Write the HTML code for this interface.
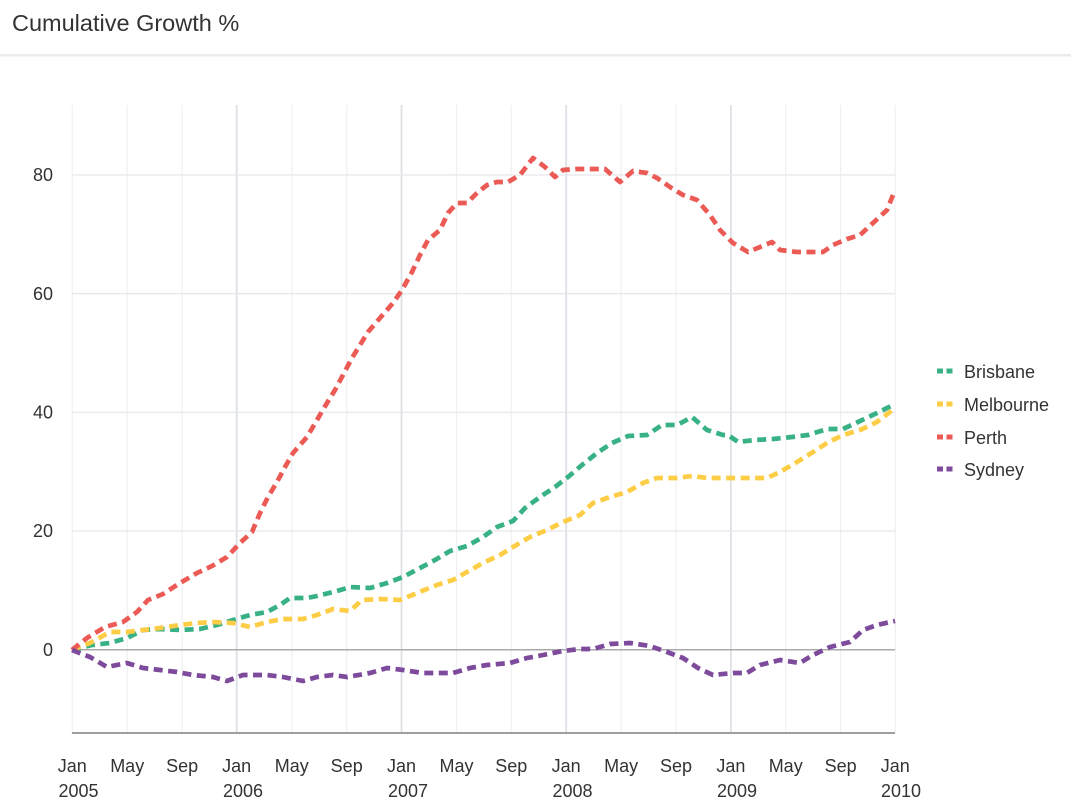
<!DOCTYPE html>
<html><head><meta charset="utf-8"><style>
html,body{margin:0;padding:0;background:#fff;width:1071px;height:805px;overflow:hidden;font-family:"Liberation Sans",Arial,sans-serif;}
svg{display:block}
</style></head><body>
<svg width="1071" height="805" viewBox="0 0 1071 805" xmlns="http://www.w3.org/2000/svg" font-family="Liberation Sans, Arial, sans-serif">
<text x="12" y="31" font-size="23.5" fill="#333">Cumulative Growth %</text>
<rect x="0" y="54" width="1071" height="2.5" fill="#ebebeb"/>
<g stroke="#eef0f3" stroke-width="1.2">
<line x1="72.3" y1="105" x2="72.3" y2="733"/>
<line x1="127.2" y1="105" x2="127.2" y2="733"/>
<line x1="182.1" y1="105" x2="182.1" y2="733"/>
<line x1="291.8" y1="105" x2="291.8" y2="733"/>
<line x1="346.7" y1="105" x2="346.7" y2="733"/>
<line x1="456.5" y1="105" x2="456.5" y2="733"/>
<line x1="511.3" y1="105" x2="511.3" y2="733"/>
<line x1="621.1" y1="105" x2="621.1" y2="733"/>
<line x1="676" y1="105" x2="676" y2="733"/>
<line x1="785.7" y1="105" x2="785.7" y2="733"/>
<line x1="840.6" y1="105" x2="840.6" y2="733"/>
<line x1="895.3" y1="105" x2="895.3" y2="733"/>
</g>
<g stroke="#dde1e6" stroke-width="1.8">
<line x1="236.7" y1="105" x2="236.7" y2="733"/>
<line x1="401.5" y1="105" x2="401.5" y2="733"/>
<line x1="566.2" y1="105" x2="566.2" y2="733"/>
<line x1="730.9" y1="105" x2="730.9" y2="733"/>
</g>
<g stroke="#e6e8eb" stroke-width="1.3">
<line x1="72" y1="175" x2="895" y2="175"/>
<line x1="72" y1="293.7" x2="895" y2="293.7"/>
<line x1="72" y1="412.4" x2="895" y2="412.4"/>
<line x1="72" y1="531" x2="895" y2="531"/>
</g>
<line x1="72" y1="649.7" x2="895" y2="649.7" stroke="#aaa" stroke-width="1.5"/>
<line x1="72" y1="733" x2="895" y2="733" stroke="#9e9e9e" stroke-width="2"/>
<g font-size="18" fill="#333" text-anchor="end">
<text x="53" y="181">80</text>
<text x="53" y="300">60</text>
<text x="53" y="418.5">40</text>
<text x="53" y="537">20</text>
<text x="53" y="656">0</text>
</g>
<g font-size="18" fill="#333" text-anchor="middle">
<text x="72.3" y="772">Jan</text><text x="78.5" y="797">2005</text>
<text x="127.2" y="772">May</text>
<text x="182.1" y="772">Sep</text>
<text x="236.7" y="772">Jan</text><text x="243" y="797">2006</text>
<text x="291.8" y="772">May</text>
<text x="346.7" y="772">Sep</text>
<text x="401.5" y="772">Jan</text><text x="408" y="797">2007</text>
<text x="456.5" y="772">May</text>
<text x="511.3" y="772">Sep</text>
<text x="566.2" y="772">Jan</text><text x="572.5" y="797">2008</text>
<text x="621.1" y="772">May</text>
<text x="676" y="772">Sep</text>
<text x="730.9" y="772">Jan</text><text x="737" y="797">2009</text>
<text x="785.7" y="772">May</text>
<text x="840.6" y="772">Sep</text>
<text x="895.3" y="772">Jan</text><text x="901" y="797">2010</text>
</g>
<g fill="none" stroke-width="4.7" stroke-dasharray="9 5.5" stroke-linejoin="round">
<polyline stroke="#38b184" points="72,650 92,645 110,643 127,638 143,630 160,629 180,630 200,629 217,625 233,620 250,615 267,612 280,605 290,598 307,598 317,596 337,591 350,587 370,588 387,583 403,577 420,568 435,560 450,551 467,546 483,537 497,527 513,521 525,508 540,497 555,487 568,477 582,465 597,453 612,443 628,436 647,435 662,425 677,425 692,417 707,430 723,435 728,435 738,442 755,440 773,439 792,437 808,435 827,429 843,429 858,422 877,413 895,404"/>
<polyline stroke="#fdcd45" points="72,650 90,643 110,632 127,632 143,630 160,628 180,625 197,623 213,622 233,623 250,627 267,622 283,619 303,619 317,615 333,609 350,611 362,600 380,599 400,600 417,593 437,585 453,580 467,572 483,563 500,555 513,547 530,537 547,530 563,522 580,515 593,503 610,497 627,492 643,483 657,478 677,478 692,476 707,478 730,478 767,478 780,472 797,462 813,452 827,443 843,435 860,430 877,422 895,408"/>
<polyline stroke="#ec5a55" points="72,650 87,638 105,627 123,622 137,612 148,600 163,594 180,583 197,573 212,566 227,557 240,543 252,532 260,513 268,497 277,482 285,467 293,453 307,437 317,420 327,403 335,390 343,375 352,358 360,345 368,332 380,318 393,303 402,290 412,272 420,255 428,240 440,230 448,213 457,203 467,203 477,193 487,185 497,182 508,182 520,175 533,158 545,167 555,177 563,170 577,169 590,169 605,169 620,182 633,171 647,173 657,178 670,187 683,195 697,200 710,215 720,230 733,243 748,252 765,245 772,242 780,250 797,252 823,252 833,245 847,239 860,235 873,223 887,210 895,190"/>
<polyline stroke="#7d4a9c" points="72,650 90,657 107,667 127,663 143,668 160,670 177,672 193,675 213,677 227,681 243,675 267,675 283,677 303,681 317,677 333,675 347,677 370,673 387,668 403,670 423,673 453,673 470,668 487,665 510,663 527,658 543,655 563,651 580,649 593,649 610,644 630,643 650,646 667,652 683,658 698,668 713,675 733,673 747,673 760,665 780,660 800,663 813,655 830,647 850,642 863,630 877,625 895,621"/>
</g>
<g stroke-width="5" stroke-dasharray="6 3.5">
<line x1="937" y1="371" x2="952.5" y2="371" stroke="#38b184"/>
<line x1="937" y1="404" x2="952.5" y2="404" stroke="#fdcd45"/>
<line x1="937" y1="437" x2="952.5" y2="437" stroke="#ec5a55"/>
<line x1="937" y1="469" x2="952.5" y2="469" stroke="#7d4a9c"/>
</g>
<g font-size="18" fill="#333">
<text x="964" y="378">Brisbane</text>
<text x="964" y="411">Melbourne</text>
<text x="964" y="444">Perth</text>
<text x="964" y="476">Sydney</text>
</g>
</svg>
</body></html>
